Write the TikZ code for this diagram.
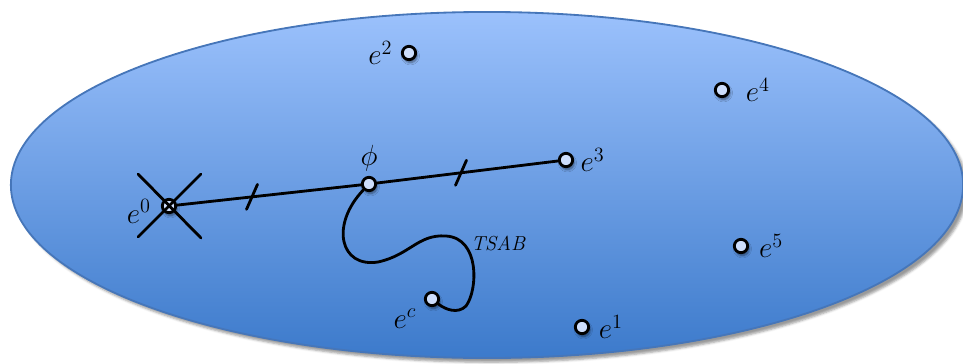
\documentclass[tikz,border=0pt]{standalone}
\usepackage{amsmath, amssymb}
\usepackage{tikz}
\usetikzlibrary{positioning, calc, shadows.blur}
\usepackage{xcolor}
\definecolor{fieldtop}{RGB}{155,193,252}
\definecolor{fieldbot}{RGB}{60,122,203}
\definecolor{fieldline}{RGB}{70,118,185}
\definecolor{dotfill}{RGB}{205,222,252}
\tikzset{
  pt/.style={circle, draw=black, line width=2pt, fill=dotfill, minimum size=9.5pt, inner sep=0pt,
    blur shadow={shadow xshift=1pt, shadow yshift=-2pt, shadow blur steps=6, shadow opacity=50}},
  lbl/.style={font=\huge, inner sep=2pt},
  wire/.style={line width=2pt, line cap=round},
}

\begin{document}
\begin{tikzpicture}[x=0.025cm, y=-0.025cm]
  \useasboundingbox (0,0) rectangle (963,363);
  \draw[fieldline, line width=1.3pt, top color=fieldtop, bottom color=fieldbot,
    blur shadow={shadow xshift=3pt, shadow yshift=-3pt, shadow opacity=40}]
    (487,185) ellipse [x radius=11.9cm, y radius=4.325cm];

  \node[pt] (e0) at (169,206) {};
  \node[pt] (phi) at (369,184) {};
  \node[pt] (e3) at (566,160) {};
  \node[pt] (e2) at (409,53) {};
  \node[pt] (e4) at (722,90) {};
  \node[pt] (e5) at (741,246) {};
  \node[pt] (e1) at (582,327) {};
  \node[pt] (ec) at (432,299) {};

  \node[lbl, left=5pt of e0, yshift=-4pt] (e0l) {$e^{0}$};
  \node[lbl, above=1pt of phi] (phil) {$\phi$};
  \node[lbl, right=2.5pt of e3] (e3l) {$e^{3}$};
  \node[lbl, left=4pt of e2] (e2l) {$e^{2}$};
  \node[lbl, right=9pt of e4] (e4l) {$e^{4}$};
  \node[lbl, right=5pt of e5] (e5l) {$e^{5}$};
  \node[lbl, right=4pt of e1] (e1l) {$e^{1}$};
  \node[lbl, below left=1pt and 5pt of ec] (ecl) {$e^{c}$};
  \node[font=\Large\itshape] (tsab) at (498,243) {TSAB};

  \draw[wire] (e0) -- (phi) -- (e3);
  \draw[wire] ($(e0)!0.415!(phi)$) +(-5.5,12.5) -- +(5.5,-12.5);
  \draw[wire] ($(phi)!0.467!(e3)$) +(-5.5,12.5) -- +(5.5,-12.5);
  \draw[wire] (e0) ++(-31,-32) -- ++(63,64);
  \draw[wire] (e0) ++(32,-32) -- ++(-63,63);

  \draw[wire] (phi) .. controls (330,225) and (340,268) .. (378,262)
    .. controls (410,255) and (418,234) .. (446,236)
    .. controls (480,238) and (478,290) .. (466,306)
    .. controls (458,314) and (446,310) .. (ec);
\end{tikzpicture}
\end{document}
